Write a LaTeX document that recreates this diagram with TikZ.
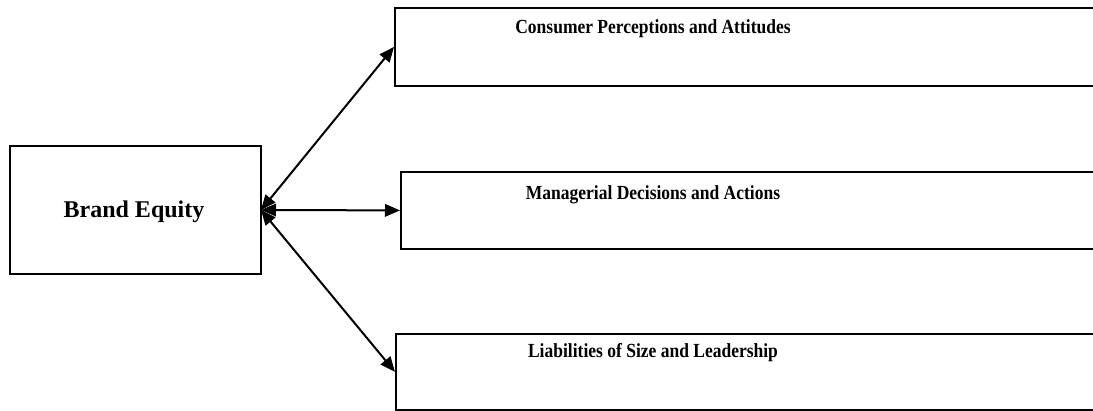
\documentclass[tikz,border=0pt]{standalone}
\usepackage{fontspec}
\setmainfont{Liberation Serif}
\usetikzlibrary{arrows.meta}
\tikzset{
  boxstyle/.style={draw=black, line width=1.8pt, inner sep=0pt, anchor=north west},
  bigtext/.style={font=\bfseries\fontsize{24}{28}\selectfont, anchor=base, inner sep=0pt},
  smalltext/.style={font=\bfseries\fontsize{20}{24}\selectfont, anchor=base, inner sep=0pt},
  link/.style={line width=2pt, {Triangle[length=15pt,width=12.5pt]}-{Triangle[length=15pt,width=12.5pt]}}
}
\newcommand{\sqz}[1]{\scalebox{0.875}[1]{#1}}
\begin{document}
\begin{tikzpicture}[x=1pt,y=-1pt]
\useasboundingbox (0,0) rectangle (1093,410);
\clip (0,0) rectangle (1093,410);
% boxes
\node[boxstyle, minimum width=251pt, minimum height=128pt] (be) at (9,145) {};
\node[boxstyle, minimum width=720pt, minimum height=78pt] (top) at (394,7) {};
\node[boxstyle, minimum width=720pt, minimum height=77pt] (mid) at (400,171) {};
\node[boxstyle, minimum width=720pt, minimum height=76pt] (bot) at (395,333) {};
% texts
\node[bigtext] (bet) at (134,217) {Brand Equity};
\node[smalltext] (topt) at (653,33) {\sqz{Consumer Perceptions and Attitudes}};
\node[smalltext] (midt) at (653,199) {\sqz{Managerial Decisions and Actions}};
\node[smalltext] (bott) at (653,357) {\sqz{Liabilities of Size and Leadership}};
% connectors
\coordinate (o) at (261,210);
\draw[link] (o) -- (top.west);
\draw[link] (o) -- (mid.west);
\draw[link] (o) -- (bot.west);
\end{tikzpicture}
\end{document}
